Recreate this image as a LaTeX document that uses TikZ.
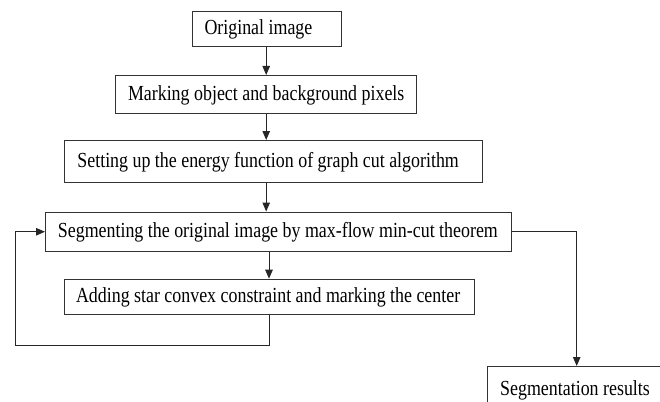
\documentclass[tikz,border=0pt]{standalone}
\usepackage{fontspec}
\setmainfont{Liberation Serif}
\usetikzlibrary{arrows.meta}
\newcommand\tallTxt[1]{\scalebox{1}[1.2]{#1}}
\begin{document}
\begin{tikzpicture}[x=1pt,y=-1pt,
  box/.style={draw=black!80, line width=1pt, rectangle, anchor=north west, inner sep=0pt},
  lbl/.style={anchor=west, inner sep=0pt, font=\fontsize{17.9}{20}\selectfont},
  link/.style={draw=black!85, line width=1pt},
  arr/.style={link, -{Triangle[length=9pt,width=7.5pt]}}]
\useasboundingbox (0,0) rectangle (660,401);
\clip (0,0) rectangle (660,401);
\node[box, minimum width=148.7pt, minimum height=35.3pt] (b1) at (192.3,10.7) {};
\node[lbl] (t1) at ([xshift=12pt,yshift=-0.5pt]b1.west) {\tallTxt{Original image}};
\node[box, minimum width=300.7pt, minimum height=38pt] (b2) at (115.3,75) {};
\node[lbl] (t2) at ([xshift=12.5pt,yshift=-0.5pt]b2.west) {\tallTxt{Marking object and background pixels}};
\node[box, minimum width=417.6pt, minimum height=41.7pt] (b3) at (64.4,140) {};
\node[lbl] (t3) at ([xshift=12.8pt,yshift=-0.5pt]b3.west) {\tallTxt{Setting up the energy function of graph cut algorithm}};
\node[box, minimum width=466pt, minimum height=39.5pt] (b4) at (45,211.5) {};
\node[lbl] (t4) at ([xshift=12.7pt,yshift=-0.5pt]b4.west) {\tallTxt{Segmenting the original image by max-flow min-cut theorem}};
\node[box, minimum width=410pt, minimum height=35.5pt] (b5) at (63.5,278.7) {};
\node[lbl] (t5) at ([xshift=12.3pt,yshift=-0.5pt]b5.west) {\tallTxt{Adding star convex constraint and marking the center}};
\node[box, minimum width=200pt, minimum height=60pt] (b6) at (486.7,366) {};
\node[lbl, anchor=base west] (t6) at (500,395) {\tallTxt{Segmentation results}};
\coordinate (cx) at (266.2,0);
\coordinate (lc) at (15.7,345);
\coordinate (rc) at (576.7,0);
\draw[arr] (b1.south -| cx) -- (b2.north -| cx);
\draw[arr] (b2.south -| cx) -- (b3.north -| cx);
\draw[arr] (b3.south -| cx) -- (b4.north -| cx);
\draw[arr] (b4.south -| b5.north) -- (b5.north);
\draw[arr] (b5.south) |- (lc) |- (b4.west);
\draw[arr] (b4.east) -| (b6.north west -| rc);
\end{tikzpicture}
\end{document}
